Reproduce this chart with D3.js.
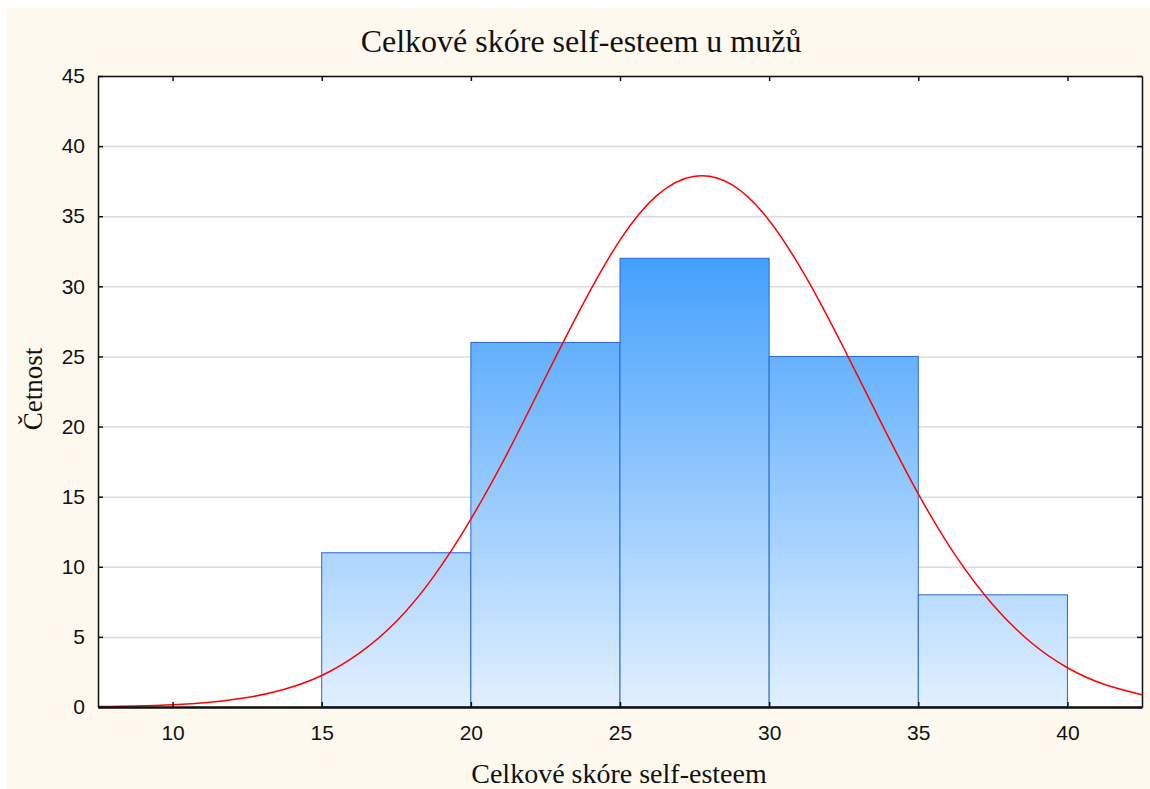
<!DOCTYPE html>
<html lang="cs">
<head>
<meta charset="UTF-8"/>
<title>Celkové skóre self-esteem u mužů</title>
<script src="https://d3js.org/d3.v7.min.js"></script>
<style>
  body { margin: 0; background: #fff; }
  svg { display: block; }
</style>
</head>
<body>
<div id="chart"></div>
<script>
// histogram bins (lower edge, upper edge, count)
const binStarts = [15, 20, 25, 30, 35];
const binEnds = [20, 25, 30, 35, 40];
const counts = [11, 26, 32, 25, 8];

// fitted normal curve, every 1.25 units
const curveX = [7.5, 8.75, 10, 11.25, 12.5, 13.75, 15, 16.25, 17.5, 18.75, 20, 21.25, 22.5, 23.75,
  25, 26.25, 27.5, 28.75, 30, 31.25, 32.5, 33.75, 35, 36.25, 37.5, 38.75, 40, 41.25, 42.5];
const curveY = [0.03, 0.07, 0.16, 0.34, 0.67, 1.27, 2.25, 3.83, 6.1, 9.3, 13.4, 18.2, 23.5, 28.7,
  33.3, 36.5, 37.85, 37.25, 34.7, 30.6, 25.6, 20.3, 15.2, 10.8, 7.3, 4.65, 2.8, 1.6, 0.87];

const xTicks = [10, 15, 20, 25, 30, 35, 40];
const yTicks = [0, 5, 10, 15, 20, 25, 30, 35, 40, 45];

const W = 1150, H = 789;
const plotL = 98, plotR = 1142, plotT = 76, plotB = 707;

const svg = d3.select('#chart').append('svg')
  .attr('width', W).attr('height', H);

svg.append('rect')
  .attr('x', 7).attr('y', 8).attr('width', W - 7).attr('height', H - 8)
  .attr('fill', '#fdf9ef');

const x = d3.scaleLinear().domain([7.5, 42.5]).range([plotL, plotR]);
const y = d3.scaleLinear().domain([0, 45]).range([plotB, plotT]);

svg.append('rect')
  .attr('x', plotL).attr('y', plotT)
  .attr('width', plotR - plotL).attr('height', plotB - plotT)
  .attr('fill', '#fff');

const defs = svg.append('defs');
const grad = defs.append('linearGradient')
  .attr('id', 'barGrad')
  .attr('gradientUnits', 'userSpaceOnUse')
  .attr('x1', 0).attr('x2', 0)
  .attr('y1', y(0)).attr('y2', y(32));
grad.append('stop').attr('offset', 0).attr('stop-color', '#e2f0ff');
grad.append('stop').attr('offset', 1).attr('stop-color', '#44a0fc');

defs.append('clipPath').attr('id', 'plotClip')
  .append('rect')
  .attr('x', plotL).attr('y', plotT)
  .attr('width', plotR - plotL).attr('height', plotB - plotT);

// horizontal gridlines
svg.append('g')
  .attr('transform', `translate(${plotL},0)`)
  .call(d3.axisLeft(y).tickValues(yTicks).tickSize(-(plotR - plotL)).tickFormat(''))
  .call(g => g.select('.domain').remove())
  .call(g => g.selectAll('line').attr('stroke', '#dcdcdc').attr('stroke-width', 1.5));

// bars
svg.append('g').selectAll('rect')
  .data(counts)
  .join('rect')
  .attr('x', (d, i) => x(binStarts[i]))
  .attr('width', (d, i) => x(binEnds[i]) - x(binStarts[i]))
  .attr('y', d => y(d))
  .attr('height', d => y(0) - y(d))
  .attr('fill', 'url(#barGrad)')
  .attr('stroke', '#2a66d8')
  .attr('stroke-width', 1);

// normal curve
const pts = curveX.map((v, i) => [v, curveY[i]]);
svg.append('path')
  .datum(pts)
  .attr('clip-path', 'url(#plotClip)')
  .attr('fill', 'none')
  .attr('stroke', '#ff0000')
  .attr('stroke-width', 1.5)
  .attr('d', d3.line().x(d => x(d[0])).y(d => y(d[1])).curve(d3.curveNatural));

// axes with inward ticks
const tickFont = '21px "Liberation Sans", Arial, sans-serif';

svg.append('g')
  .attr('transform', `translate(0,${plotB})`)
  .call(d3.axisBottom(x).tickValues(xTicks).tickSizeInner(-5).tickSizeOuter(0).tickPadding(18))
  .call(g => g.select('.domain').attr('stroke', '#111').attr('stroke-width', 2.5))
  .call(g => g.selectAll('line').attr('stroke', '#111').attr('stroke-width', 1.5))
  .call(g => g.selectAll('text').style('font', tickFont).attr('fill', '#111'));

svg.append('g')
  .attr('transform', `translate(${plotL},0)`)
  .call(d3.axisLeft(y).tickValues(yTicks).tickSizeInner(-5).tickSizeOuter(0).tickPadding(13))
  .call(g => g.select('.domain').attr('stroke', '#111').attr('stroke-width', 1.5))
  .call(g => g.selectAll('line').attr('stroke', '#111').attr('stroke-width', 1.5))
  .call(g => g.selectAll('text').style('font', tickFont).attr('fill', '#111'));

svg.append('g')
  .attr('transform', `translate(0,${plotT})`)
  .call(d3.axisTop(x).tickValues(xTicks).tickSizeInner(-5).tickSizeOuter(0).tickFormat(''))
  .call(g => g.select('.domain').attr('stroke', '#111').attr('stroke-width', 1.5))
  .call(g => g.selectAll('line').attr('stroke', '#111').attr('stroke-width', 1.5));

svg.append('g')
  .attr('transform', `translate(${plotR},0)`)
  .call(d3.axisRight(y).tickValues(yTicks).tickSizeInner(-5).tickSizeOuter(0).tickFormat(''))
  .call(g => g.select('.domain').attr('stroke', '#111').attr('stroke-width', 1.5))
  .call(g => g.selectAll('line').attr('stroke', '#111').attr('stroke-width', 1.5));

// titles
const serif = '"Liberation Serif", "Times New Roman", serif';

svg.append('text')
  .attr('x', 581).attr('y', 52)
  .attr('text-anchor', 'middle')
  .style('font-family', serif).style('font-size', '32px')
  .attr('fill', '#111')
  .text('Celkové skóre self-esteem u mužů');

svg.append('text')
  .attr('x', 619).attr('y', 783)
  .attr('text-anchor', 'middle')
  .style('font-family', serif).style('font-size', '28px')
  .attr('fill', '#111')
  .text('Celkové skóre self-esteem');

svg.append('text')
  .attr('transform', `translate(42,389) rotate(-90)`)
  .attr('text-anchor', 'middle')
  .style('font-family', serif).style('font-size', '27px')
  .attr('fill', '#111')
  .text('Četnost');
</script>
</body>
</html>
